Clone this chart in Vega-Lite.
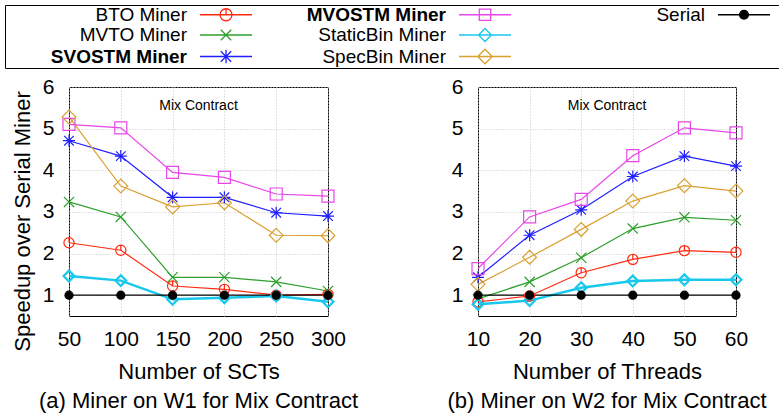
{
  "$schema": "https://vega.github.io/schema/vega-lite/v6.json",
  "padding": {"left": 4, "top": 4, "right": 0, "bottom": 0},
  "background": "white",
  "datasets": {"speedup": [
    {"p":"a","s":"BTO Miner","x":50,"y":2.26},{"p":"a","s":"BTO Miner","x":100,"y":2.08},{"p":"a","s":"BTO Miner","x":150,"y":1.22},{"p":"a","s":"BTO Miner","x":200,"y":1.14},{"p":"a","s":"BTO Miner","x":250,"y":1.0},{"p":"a","s":"BTO Miner","x":300,"y":1.02},
    {"p":"a","s":"MVTO Miner","x":50,"y":3.24},{"p":"a","s":"MVTO Miner","x":100,"y":2.88},{"p":"a","s":"MVTO Miner","x":150,"y":1.43},{"p":"a","s":"MVTO Miner","x":200,"y":1.43},{"p":"a","s":"MVTO Miner","x":250,"y":1.32},{"p":"a","s":"MVTO Miner","x":300,"y":1.10},
    {"p":"a","s":"SVOSTM Miner","x":50,"y":4.71},{"p":"a","s":"SVOSTM Miner","x":100,"y":4.34},{"p":"a","s":"SVOSTM Miner","x":150,"y":3.35},{"p":"a","s":"SVOSTM Miner","x":200,"y":3.35},{"p":"a","s":"SVOSTM Miner","x":250,"y":2.98},{"p":"a","s":"SVOSTM Miner","x":300,"y":2.90},
    {"p":"a","s":"MVOSTM Miner","x":50,"y":5.10},{"p":"a","s":"MVOSTM Miner","x":100,"y":5.02},{"p":"a","s":"MVOSTM Miner","x":150,"y":3.95},{"p":"a","s":"MVOSTM Miner","x":200,"y":3.83},{"p":"a","s":"MVOSTM Miner","x":250,"y":3.43},{"p":"a","s":"MVOSTM Miner","x":300,"y":3.38},
    {"p":"a","s":"StaticBin Miner","x":50,"y":1.46},{"p":"a","s":"StaticBin Miner","x":100,"y":1.35},{"p":"a","s":"StaticBin Miner","x":150,"y":0.90},{"p":"a","s":"StaticBin Miner","x":200,"y":0.94},{"p":"a","s":"StaticBin Miner","x":250,"y":0.98},{"p":"a","s":"StaticBin Miner","x":300,"y":0.84},
    {"p":"a","s":"SpecBin Miner","x":50,"y":5.28},{"p":"a","s":"SpecBin Miner","x":100,"y":3.62},{"p":"a","s":"SpecBin Miner","x":150,"y":3.12},{"p":"a","s":"SpecBin Miner","x":200,"y":3.22},{"p":"a","s":"SpecBin Miner","x":250,"y":2.44},{"p":"a","s":"SpecBin Miner","x":300,"y":2.43},
    {"p":"a","s":"Serial","x":50,"y":1},{"p":"a","s":"Serial","x":100,"y":1},{"p":"a","s":"Serial","x":150,"y":1},{"p":"a","s":"Serial","x":200,"y":1},{"p":"a","s":"Serial","x":250,"y":1},{"p":"a","s":"Serial","x":300,"y":1},
    {"p":"b","s":"BTO Miner","x":10,"y":0.84},{"p":"b","s":"BTO Miner","x":20,"y":0.98},{"p":"b","s":"BTO Miner","x":30,"y":1.54},{"p":"b","s":"BTO Miner","x":40,"y":1.86},{"p":"b","s":"BTO Miner","x":50,"y":2.07},{"p":"b","s":"BTO Miner","x":60,"y":2.03},
    {"p":"b","s":"MVTO Miner","x":10,"y":0.91},{"p":"b","s":"MVTO Miner","x":20,"y":1.32},{"p":"b","s":"MVTO Miner","x":30,"y":1.90},{"p":"b","s":"MVTO Miner","x":40,"y":2.60},{"p":"b","s":"MVTO Miner","x":50,"y":2.87},{"p":"b","s":"MVTO Miner","x":60,"y":2.80},
    {"p":"b","s":"SVOSTM Miner","x":10,"y":1.43},{"p":"b","s":"SVOSTM Miner","x":20,"y":2.44},{"p":"b","s":"SVOSTM Miner","x":30,"y":3.05},{"p":"b","s":"SVOSTM Miner","x":40,"y":3.85},{"p":"b","s":"SVOSTM Miner","x":50,"y":4.34},{"p":"b","s":"SVOSTM Miner","x":60,"y":4.10},
    {"p":"b","s":"MVOSTM Miner","x":10,"y":1.64},{"p":"b","s":"MVOSTM Miner","x":20,"y":2.88},{"p":"b","s":"MVOSTM Miner","x":30,"y":3.30},{"p":"b","s":"MVOSTM Miner","x":40,"y":4.35},{"p":"b","s":"MVOSTM Miner","x":50,"y":5.02},{"p":"b","s":"MVOSTM Miner","x":60,"y":4.90},
    {"p":"b","s":"StaticBin Miner","x":10,"y":0.78},{"p":"b","s":"StaticBin Miner","x":20,"y":0.87},{"p":"b","s":"StaticBin Miner","x":30,"y":1.18},{"p":"b","s":"StaticBin Miner","x":40,"y":1.34},{"p":"b","s":"StaticBin Miner","x":50,"y":1.37},{"p":"b","s":"StaticBin Miner","x":60,"y":1.37},
    {"p":"b","s":"SpecBin Miner","x":10,"y":1.26},{"p":"b","s":"SpecBin Miner","x":20,"y":1.91},{"p":"b","s":"SpecBin Miner","x":30,"y":2.58},{"p":"b","s":"SpecBin Miner","x":40,"y":3.26},{"p":"b","s":"SpecBin Miner","x":50,"y":3.63},{"p":"b","s":"SpecBin Miner","x":60,"y":3.50},
    {"p":"b","s":"Serial","x":10,"y":1},{"p":"b","s":"Serial","x":20,"y":1},{"p":"b","s":"Serial","x":30,"y":1},{"p":"b","s":"Serial","x":40,"y":1},{"p":"b","s":"Serial","x":50,"y":1},{"p":"b","s":"Serial","x":60,"y":1}
  ],
  "note": [{"label": "Mix Contract"}]},
  "config": {
    "font": "Liberation Sans",
    "view": {"stroke": "black", "strokeWidth": 1},
    "axis": {"labelFont": "Liberation Sans", "labelFontSize": 21, "labelColor": "black", "titleFont": "Liberation Sans", "titleFontSize": 22, "titleFontWeight": "normal", "titleColor": "black", "ticks": false, "domain": false, "grid": true, "gridColor": "#c4c4c4", "gridDash": [1, 2], "gridWidth": 1, "labelFlush": false, "labelOverlap": false},
    "axisX": {"labelPadding": 12, "titlePadding": 12, "labelAngle": 0},
    "axisY": {"labelPadding": 15, "titlePadding": 8},
    "title": {"font": "Liberation Sans", "fontSize": 22, "fontWeight": "normal", "color": "black", "orient": "bottom", "offset": 9}
  },
  "spacing": 87,
  "resolve": {"scale": {"color": "shared", "shape": "shared", "y": "independent", "x": "independent"}},
  "hconcat": [
    {
      "width": 259, "height": 229,
      "title": {"text": "(a) Miner on W1 for Mix Contract"},
      "layer": [
        {
          "data": {"name": "speedup"},
          "transform": [{"filter": "datum.p === 'a'"}],
          "mark": {"type": "line"},
          "encoding": {
            "x": {"field": "x", "type": "quantitative", "scale": {"domain": [50, 300], "nice": false, "zero": false}, "axis": {"values": [50, 100, 150, 200, 250, 300], "title": "Number of SCTs"}},
            "y": {"field": "y", "type": "quantitative", "scale": {"domain": [0.5, 6], "nice": false, "zero": false}, "axis": {"values": [1, 2, 3, 4, 5, 6], "title": "Speedup over Serial Miner", "titleY": 134}},
            "color": {"field": "s", "type": "nominal",
              "scale": {"domain": ["BTO Miner", "MVTO Miner", "SVOSTM Miner", "MVOSTM Miner", "StaticBin Miner", "SpecBin Miner", "Serial", " "],
                        "range": ["#ff2a10", "#2ca02c", "#2020ff", "#e846e8", "#18c8ec", "#daa030", "#000000", "#ffffff"]},
              "legend": {
                "title": null, "orient": "none", "legendX": -64, "legendY": -82,
                "columns": 3, "columnPadding": 0, "rowPadding": 0.5, "padding": 1,
                "strokeColor": "black", "fillColor": "white",
                "labelFont": "Liberation Sans", "labelFontSize": 19, "labelColor": "black", "labelAlign": "right", "labelLimit": 300,
                "symbolSize": 100,
                "encode": {
                  "entries": {"update": {"width": {"value": 259}, "height": {"value": 10}, "fill": {"value": "transparent"}}},
                  "symbols": {"update": {
                    "x": {"value": 220}, "y": {"value": 8.5}, "size": {"value": 2704},
                    "stroke": {"scale": "color", "field": "value"},
                    "strokeWidth": {"value": 1.3},
                    "fill": {"signal": "datum.value === 'Serial' ? 'black' : 'transparent'"},
                    "opacity": {"signal": "datum.value === ' ' ? 0 : 1"},
                    "shape": {"signal": "datum.value === 'BTO Miner' ? 'M-1,0L1,0M-0.23,0A0.23,0.23 0 1,1 0.23,0A0.23,0.23 0 1,1 -0.23,0M0,0L0,-0.23M1.38,0' : datum.value === 'MVOSTM Miner' ? 'M-1,0L1,0M-0.22,-0.22L0.22,-0.22L0.22,0.22L-0.22,0.22ZM1.38,0' : datum.value === 'Serial' ? 'M-1,0L1,0M-0.17,0A0.17,0.17 0 1,1 0.17,0A0.17,0.17 0 1,1 -0.17,0ZM1.38,0' : datum.value === 'MVTO Miner' ? 'M-1,0L1,0M-0.2,-0.2L0.2,0.2M-0.2,0.2L0.2,-0.2M1.38,0' : datum.value === 'StaticBin Miner' ? 'M-1,0L1,0M0,-0.25L0.25,0L0,0.25L-0.25,0ZM1.38,0' : datum.value === 'SVOSTM Miner' ? 'M-1,0L1,0M-0.2,-0.2L0.2,0.2M-0.2,0.2L0.2,-0.2M0,-0.26L0,0.26M1.38,0' : 'M-1,0L1,0M0,-0.28L0.28,0L0,0.28L-0.28,0ZM1.38,0'"}
                  }},
                  "labels": {"update": {
                    "x": {"value": 181}, "y": {"value": 8.5},
                    "fontWeight": {"signal": "datum.value === 'SVOSTM Miner' || datum.value === 'MVOSTM Miner' ? 'bold' : 'normal'"}
                  }}
                }
              }
            },
            "strokeWidth": {"condition": {"test": "datum.s === 'StaticBin Miner'", "value": 2.5}, "value": 1.2}
          }
        },
        {
          "data": {"name": "speedup"},
          "transform": [{"filter": "datum.p === 'a'"}],
          "mark": {"type": "point", "filled": false, "size": 144, "opacity": 1},
          "encoding": {
            "x": {"field": "x", "type": "quantitative"},
            "y": {"field": "y", "type": "quantitative"},
            "color": {"field": "s", "type": "nominal"},
            "shape": {"field": "s", "type": "nominal", "legend": null,
              "scale": {"domain": ["BTO Miner", "MVTO Miner", "SVOSTM Miner", "MVOSTM Miner", "StaticBin Miner", "SpecBin Miner", "Serial"],
                        "range": ["M-0.85,0A0.85,0.85 0 1,1 0.85,0A0.85,0.85 0 1,1 -0.85,0M0,0L0,-0.85", "M-0.85,-0.85L0.85,0.85M-0.85,0.85L0.85,-0.85", "M-0.8,-0.8L0.8,0.8M-0.8,0.8L0.8,-0.8M0,-1L0,1M-1,0L1,0", "M-1,-1L1,-1L1,1L-1,1Z", "M0,-0.9L0.9,0L0,0.9L-0.9,0Z", "M0,-1.15L1.15,0L0,1.15L-1.15,0Z", "M-0.67,0A0.67,0.67 0 1,1 0.67,0A0.67,0.67 0 1,1 -0.67,0Z"]}},
            "fill": {"condition": {"test": "datum.s === 'Serial'", "value": "black"}, "value": "transparent"},
            "strokeWidth": {"condition": {"test": "datum.s === 'StaticBin Miner'", "value": 2.2}, "value": 1.2}
          }
        },
        {
          "data": {"name": "note"},
          "mark": {"type": "text", "font": "Liberation Sans", "fontSize": 14, "color": "black", "align": "center", "baseline": "middle"},
          "encoding": {"x": {"datum": 175}, "y": {"datum": 5.54}, "text": {"field": "label"}}
        }
      ]
    },
    {
      "width": 258, "height": 229,
      "title": {"text": "(b) Miner on W2 for Mix Contract"},
      "layer": [
        {
          "data": {"name": "speedup"},
          "transform": [{"filter": "datum.p === 'b'"}],
          "mark": {"type": "line"},
          "encoding": {
            "x": {"field": "x", "type": "quantitative", "scale": {"domain": [10, 60], "nice": false, "zero": false}, "axis": {"values": [10, 20, 30, 40, 50, 60], "title": "Number of Threads"}},
            "y": {"field": "y", "type": "quantitative", "scale": {"domain": [0.5, 6], "nice": false, "zero": false}, "axis": {"values": [1, 2, 3, 4, 5, 6], "title": null}},
            "color": {"field": "s", "type": "nominal"},
            "strokeWidth": {"condition": {"test": "datum.s === 'StaticBin Miner'", "value": 2.5}, "value": 1.2}
          }
        },
        {
          "data": {"name": "speedup"},
          "transform": [{"filter": "datum.p === 'b'"}],
          "mark": {"type": "point", "filled": false, "size": 144, "opacity": 1},
          "encoding": {
            "x": {"field": "x", "type": "quantitative"},
            "y": {"field": "y", "type": "quantitative"},
            "color": {"field": "s", "type": "nominal"},
            "shape": {"field": "s", "type": "nominal", "legend": null},
            "fill": {"condition": {"test": "datum.s === 'Serial'", "value": "black"}, "value": "transparent"},
            "strokeWidth": {"condition": {"test": "datum.s === 'StaticBin Miner'", "value": 2.2}, "value": 1.2}
          }
        },
        {
          "data": {"name": "note"},
          "mark": {"type": "text", "font": "Liberation Sans", "fontSize": 14, "color": "black", "align": "center", "baseline": "middle"},
          "encoding": {"x": {"datum": 35}, "y": {"datum": 5.54}, "text": {"field": "label"}}
        }
      ]
    }
  ]
}
